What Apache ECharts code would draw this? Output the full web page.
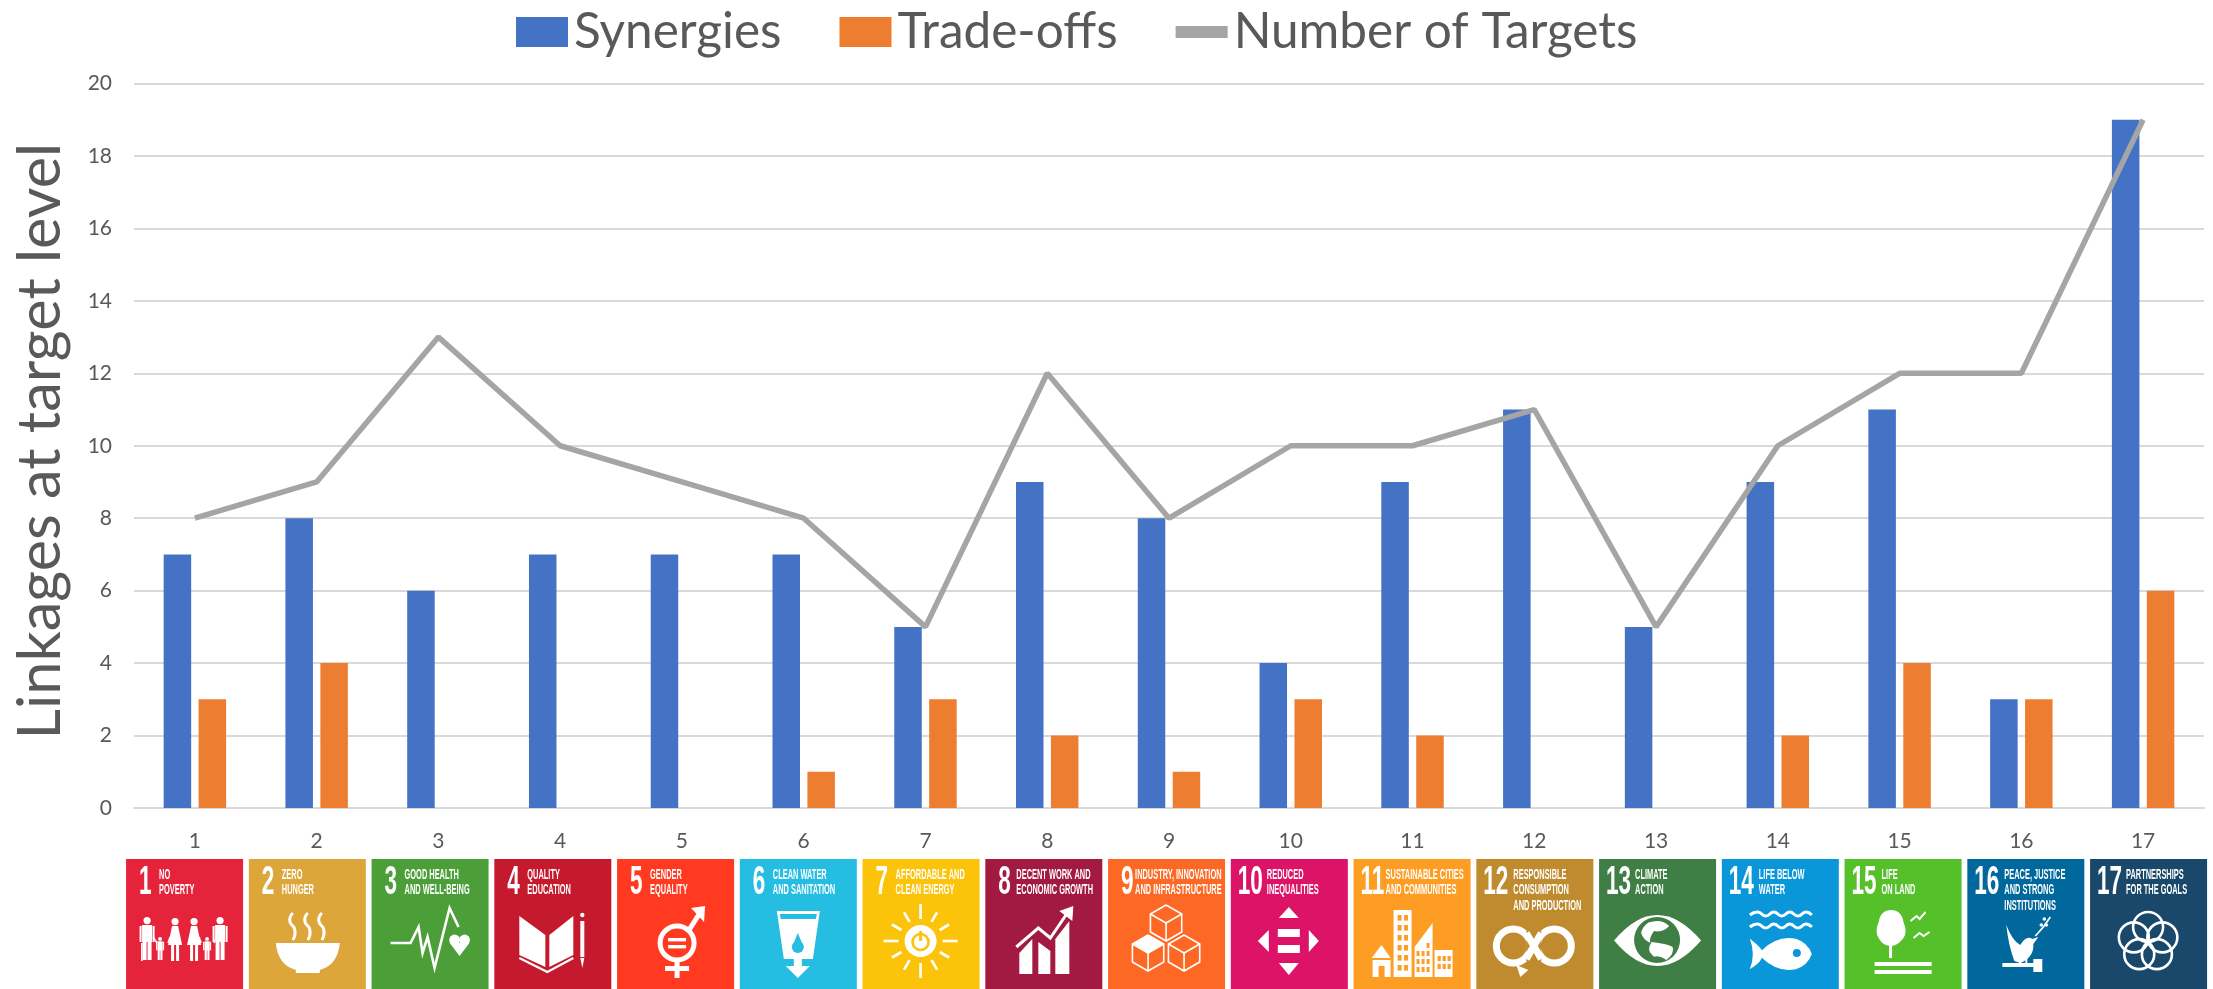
<!DOCTYPE html>
<html><head><meta charset="utf-8">
<style>html,body{margin:0;padding:0;background:#fff}#c{width:2213px;height:989px}</style>
<script src="https://cdn.jsdelivr.net/npm/echarts@6/dist/echarts.min.js"></script>
</head><body><div id="c"></div>
<script>
const categories = ['1','2','3','4','5','6','7','8','9','10','11','12','13','14','15','16','17'];
const synergies = [7,8,6,7,7,7,5,9,8,4,9,11,5,9,11,3,19];
const tradeOffs = [3,4,0,0,0,1,3,2,1,3,2,0,0,2,4,3,6];
const targets = [8,9,13,10,9,8,5,12,8,10,10,11,5,10,12,12,19];
const tileColors = ['#E5243B','#DDA63A','#4C9F38','#C5192D','#FF3A21','#26BDE2','#FCC30B','#A21942','#FD6925','#DD1367','#FD9D24','#BF8B2E','#3F7E44','#0A97D9','#56C02B','#00689D','#19486A'];
const tileTitles = [
 ['NO','POVERTY'],['ZERO','HUNGER'],['GOOD HEALTH','AND WELL-BEING'],['QUALITY','EDUCATION'],['GENDER','EQUALITY'],
 ['CLEAN WATER','AND SANITATION'],['AFFORDABLE AND','CLEAN ENERGY'],['DECENT WORK AND','ECONOMIC GROWTH'],['INDUSTRY, INNOVATION','AND INFRASTRUCTURE'],['REDUCED','INEQUALITIES'],
 ['SUSTAINABLE CITIES','AND COMMUNITIES'],['RESPONSIBLE','CONSUMPTION','AND PRODUCTION'],['CLIMATE','ACTION'],['LIFE BELOW','WATER'],['LIFE','ON LAND'],['PEACE, JUSTICE','AND STRONG','INSTITUTIONS'],['PARTNERSHIPS','FOR THE GOALS']];
const titleX = [33,33,33,33,33,33,33,31,27,36,32,37,36,37,37,37,36];

const W='#fff';
const R=(x,y,w,h,f)=>({type:'rect',shape:{x,y,width:w,height:h},style:{fill:f||W}});
const C=(cx,cy,r,f)=>({type:'circle',shape:{cx,cy,r},style:{fill:f||W}});
const O=(cx,cy,r,lw,s)=>({type:'circle',shape:{cx,cy,r},style:{fill:'none',stroke:s||W,lineWidth:lw}});
const P=(pts,f)=>({type:'polygon',shape:{points:pts},style:{fill:f||W}});
const L=(pts,lw,s,sm)=>({type:'polyline',shape:{points:pts,smooth:sm||0},style:{fill:'none',stroke:s||W,lineWidth:lw,lineJoin:'miter'}});
const D=(d,x,y,w,h,f)=>({type:'path',shape:{pathData:d,x,y,width:w,height:h,layout:'cover'},style:{fill:f||W}});
function person(cx,top,h,dress){
  const u=h/43, a=[C(cx,top+3.6*u,3.6*u)];
  if(dress){a.push(P([[cx-3*u,top+8*u],[cx+3*u,top+8*u],[cx+7*u,top+27*u],[cx-7*u,top+27*u]]));a.push(R(cx-4*u,top+26*u,3*u,17*u),R(cx+1*u,top+26*u,3*u,17*u));}
  else{a.push(R(cx-5*u,top+8*u,10*u,17*u),R(cx-4.5*u,top+24*u,4*u,19*u),R(cx+.5*u,top+24*u,4*u,19*u),R(cx-7.5*u,top+9*u,2*u,16*u),R(cx+5.5*u,top+9*u,2*u,16*u));}
  return a;
}
function hexCube(cx,cy,r,fill,c){
  const h=r*.87, pts=[[cx,cy-r],[cx+h,cy-r/2],[cx+h,cy+r/2],[cx,cy+r],[cx-h,cy+r/2],[cx-h,cy-r/2]];
  const out=[P(pts,c),L(pts.concat([pts[0]]),1.6),L([[cx-h,cy-r/2],[cx,cy],[cx+h,cy-r/2]],1.6),L([[cx,cy],[cx,cy+r]],1.6)];
  if(fill) out.splice(1,0,P([[cx,cy-r],[cx+h,cy-r/2],[cx,cy],[cx-h,cy-r/2]]));
  return out;
}
const icons=[
 c=>[...person(21,58,43),...person(49,59,43,1),...person(68,59,43,1),...person(94,58,43),...person(34,78,23),...person(81,78,23),R(15,84,1.6,18),L([[27,78],[31,84]],1.6),L([[42,84],[44,78]],1.6),L([[75,84],[73,78]],1.6),L([[88,84],[90,78]],1.6)],
 c=>[L([[44,54],[41,62],[46,71],[44,81]],3,W,.6),L([[59,54],[56,62],[61,71],[59,81]],3,W,.6),L([[73,54],[70,62],[75,71],[73,81]],3,W,.6),
     D('M0 0H64Q62 22 44 27V30H20V27Q2 22 0 0Z',27,84,64,30)],
 c=>[L([[19,84],[39,84],[47,68],[51,94],[56,78],[63,109],[78,49],[87,68]],2.6),C(83,81,5.4),C(93,81,5.4),P([[78.2,84],[97.8,84],[88,97]])],
 c=>[P([[25,57],[51,76],[51,108],[25,96]]),P([[79,57],[55,76],[55,108],[79,96]]),L([[25,99],[53,113],[79,99]],2.2),R(86,62,4,36),C(88,56,2.2),P([[86,99],[90,99],[88,109]])],
 c=>[O(60,84,17,5),R(51,79,18,3.4),R(51,86,18,3.4),L([[72,71],[84,52]],5),P([[74,49],[88,47],[87,63]]),R(57.5,100,5,19),R(48,107,24,5)],
 c=>[P([[37,52],[80,52],[73,100],[44,100]]),P([[40,55],[77,55],[76,60],[41,60]],c),C(58,88,6,c),P([[58,74],[53,86],[63,86]],c),R(54,100,8,8),P([[46,107],[70,107],[58,119]])],
 c=>{const a=[C(58,82,16),O(58,83,8,2.6,c),R(56.5,72,3,10,c)];for(let i=0;i<12;i++){const t=i*Math.PI/6,s=Math.sin(t),k=Math.cos(t);a.push(L([[58+22*s,82-22*k],[58+(i%3?33:37)*s,82-(i%3?33:37)*k]],2.6));}return a;},
 c=>[P([[34,94],[47,80],[47,115],[34,115]]),P([[53,83],[65,92],[65,115],[53,115]]),P([[70,80],[84,62],[84,115],[70,115]]),L([[31,90],[53,71],[65,81],[84,54]],3.4,c),L([[31,88],[53,69],[65,79],[82,54]],3),P([[74,52],[88,47],[87,62]])],
 c=>[...hexCube(58,64,18,false,c),...hexCube(40,94,18,true,c),...hexCube(76,94,18,false,c)],
 c=>[P([[58,48],[48,59],[68,59]]),P([[58,116],[48,104],[68,104]]),P([[27,82],[38,71],[38,93]]),P([[88,82],[78,71],[78,93]]),R(47,70,22,8),R(47,86,22,8)],
 c=>{const a=[P([[18,99],[28,86],[37,99]]),R(19,101,18,17),R(25,107,6,11,c),R(40,51,18,67),P([[61,118],[61,88],[79,64],[79,118]]),R(81,91,18,27)];
     for(let r=0;r<6;r++)for(let q=0;q<2;q++)a.push(R(44+q*6.5,56+r*10,4,5.6,c));
     for(let r=0;r<4;r++)for(let q=0;q<3;q++)if(r||q==2)a.push(R(63+q*5,84+r*8,3,5,c));
     for(let r=0;r<2;r++)for(let q=0;q<3;q++)a.push(R(84+q*5,97+r*8,3.2,5,c));
     return a;},
 c=>[O(37,87,17,7),O(78,87,17,7),R(50,72,15,30,c),L([[50,74],[65,100]],7),L([[50,100],[65,74]],7),P([[40,106],[52,111],[44,118]])],
 c=>[D('M0 25Q43 -25 87 25Q43 75 0 25Z',15,56,87,51),C(58,81,23,c),D('M8 2Q22 -3 30 6Q24 14 14 12Q8 20 10 26Q2 22 0 14Q2 6 8 2Z',42,62,28,22),D('M6 0Q20 2 26 6Q28 14 20 22Q14 16 8 18Q0 10 6 0Z',50,83,24,18)],
 c=>[L([[28,56],[36,53],[44,57],[52,53],[60,57],[68,53],[76,57],[84,53],[90,56]],3,W,.5),L([[28,68],[36,65],[44,69],[52,65],[60,69],[68,65],[76,69],[84,65],[90,68]],3,W,.5),
     D('M0 0Q10 8 12 12Q28 -4 46 0Q58 4 62 16Q58 28 46 32Q28 36 12 20Q10 26 0 32Q6 16 0 0Z',28,79,62,32),C(75,94,4,c)],
 c=>[D('M14 0Q24 0 26 12Q30 22 26 28Q20 36 14 36Q6 36 2 28Q-2 22 2 12Q4 0 14 0Z',32,51,29,36),R(44.5,87,3,12),R(30,103,57,4),R(30,111,57,4),L([[66,62],[72,57],[75,60],[81,53]],2),L([[69,79],[75,74],[79,77],[85,73]],2)],
 c=>[D('M0 0Q6 16 14 20Q20 10 26 14L32 12L27 19Q28 32 14 38L8 36Q2 20 0 0Z',39,66,32,38),L([[68,77],[76,68],[83,58]],1.8),C(74,66,1.8),C(79,66,1.8),C(77,60,1.8),R(35,104,32,4),R(66,100,9,13),R(52,99,2,6),R(58,99,2,6)],
 c=>{const a=[];for(let i=0;i<5;i++){const t=i*2*Math.PI/5;a.push(O(58+15*Math.sin(t),83-15*Math.cos(t),15,2.6));}return a;}
];

const chart=echarts.init(document.getElementById('c'));
const GREY='#595959';
chart.setOption({
 animation:false,
 backgroundColor:'#fff',
 legend:{show:true,top:7,left:516,padding:0,itemWidth:52,itemHeight:30,itemGap:58,selectedMode:false,symbolKeepAspect:true,
  textStyle:{fontFamily:'Lato',fontSize:49.5,color:GREY,padding:[6,0,0,1]},
  data:[{name:'Synergies',icon:'rect'},{name:'Trade-offs',icon:'rect'},
        {name:'Number of Targets',icon:'path://M0 0H48V11H0Z',lineStyle:{width:5.5,color:'#A5A5A5'},itemStyle:{color:'#A5A5A5'}}]},
 grid:[{left:134,top:83.5,width:2070,height:724.5},{left:123.2,top:859,width:2086.75,height:130}],
 xAxis:[
  {type:'category',gridIndex:0,data:categories,axisTick:{show:false},axisLine:{lineStyle:{color:'#D9D9D9',width:2}},
   axisLabel:{fontFamily:'Lato',fontSize:21,color:GREY,margin:23}},
  {type:'category',gridIndex:1,data:categories,show:false}],
 yAxis:[
  {type:'value',gridIndex:0,min:0,max:20,interval:2,name:'Linkages at target level',nameLocation:'middle',nameGap:63,
   nameTextStyle:{fontFamily:'Lato',fontSize:59.5,color:GREY,padding:[0,0,0,9]},
   axisLine:{show:false},axisTick:{show:false},splitLine:{lineStyle:{color:'#D9D9D9',width:2}},
   axisLabel:{fontFamily:'Lato',fontSize:21,color:GREY,margin:22}},
  {type:'value',gridIndex:1,min:0,max:1,show:false}],
 tooltip:{show:false},
 series:[
  {name:'Synergies',type:'bar',data:synergies,barWidth:27.5,barGap:'27%',itemStyle:{color:'#4472C4'},silent:true},
  {name:'Trade-offs',type:'bar',data:tradeOffs,barWidth:27.5,barGap:'27%',itemStyle:{color:'#ED7D31'},silent:true},
  {name:'Number of Targets',type:'line',data:targets,symbol:'none',lineStyle:{color:'#A5A5A5',width:5.5},itemStyle:{color:'#A5A5A5'},silent:true,z:5},
  {type:'custom',xAxisIndex:1,yAxisIndex:1,silent:true,clip:false,legendHoverLink:false,
   data:categories.map((c,i)=>[i,1]),
   encode:{x:0,y:1},
   renderItem:(params,api)=>{
     const i=api.value(0), p=api.coord([i,1]), col=tileColors[i];
     const kids=[R(0,0,117,130,col)];
     kids.push({type:'text',x:categories[i].length>1?7:13,y:24,scaleX:.55,style:{text:categories[i],x:0,y:0,fill:W,font:'bold 41px "Liberation Sans Narrow","Liberation Sans"',textVerticalAlign:'middle',textAlign:'left'}});
     tileTitles[i].forEach((t,k)=>kids.push({type:'text',x:titleX[i],y:16+k*15.5,scaleX:.53,style:{text:t,x:0,y:0,fill:W,font:'bold 14px "Liberation Sans Narrow","Liberation Sans"',textVerticalAlign:'middle',textAlign:'left'}}));
     kids.push(...icons[i](col));
     return {type:'group',x:p[0]-58.5,y:p[1],children:kids};
   }}
 ]
});
</script></body></html>
